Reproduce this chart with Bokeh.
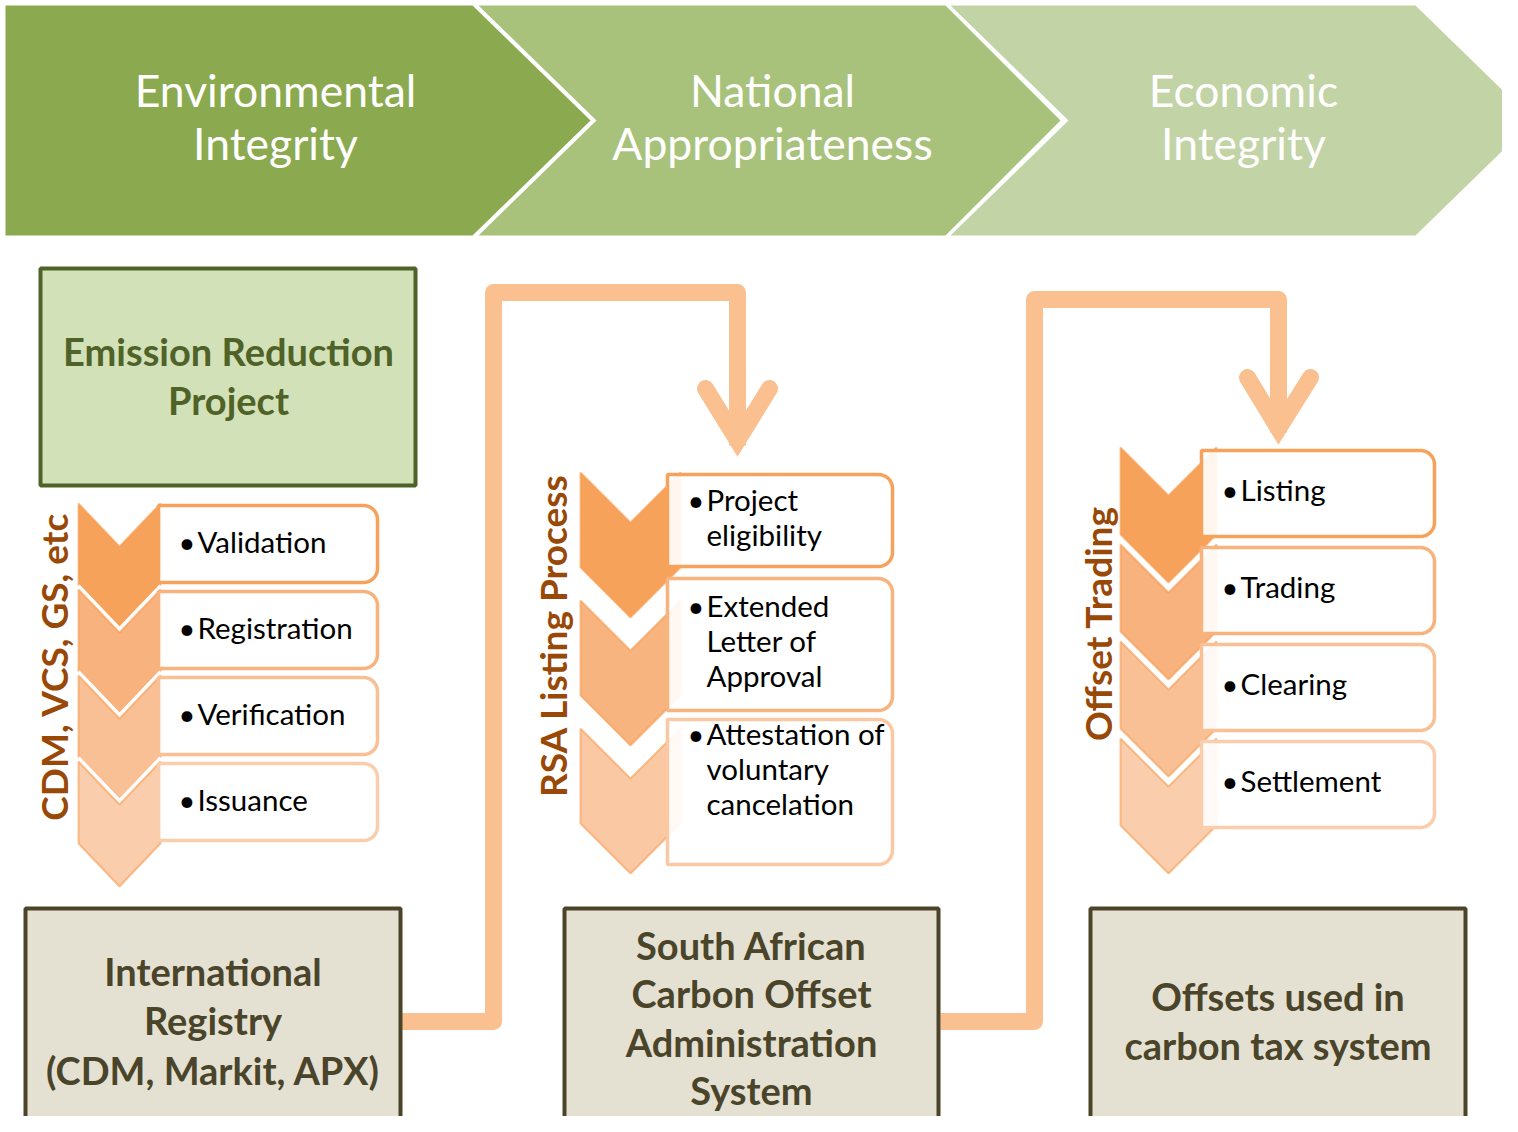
import numpy as np
from bokeh.plotting import figure
from bokeh.models import Range1d
from bokeh.embed import file_html
from bokeh.resources import INLINE
from bokeh.core.properties import value

# ---------------- data (texts) ----------------
stage_lines = [["Environmental", "Integrity"], ["National", "Appropriateness"], ["Economic", "Integrity"]]
stage_colors = ["#8BA94F", "#A8C27B", "#C2D3A6"]
project_lines = ["Emission Reduction", "Project"]
column_labels = ["CDM, VCS, GS, etc", "RSA Listing Process", "Offset Trading"]
col1_items = [["Validation"], ["Registration"], ["Verification"], ["Issuance"]]
col2_items = [["Project", "eligibility"], ["Extended", "Letter of", "Approval"],
              ["Attestation of", "voluntary", "cancelation"]]
col3_items = [["Listing"], ["Trading"], ["Clearing"], ["Settlement"]]
system_lines = [["International", "Registry", "(CDM, Markit, APX)"],
                ["South African", "Carbon Offset", "Administration", "System"],
                ["Offsets used in", "carbon tax system"]]
shades4 = ["#F7A25B", "#F8B27D", "#F9C096", "#FACDAC"]
shades3 = ["#F7A25B", "#F8B47E", "#FAC8A2"]

FONT = "Lato"
DY = -3  # text baseline correction
W, H = 1502, 1116
p = figure(width=W, height=H, x_range=Range1d(0, W), y_range=Range1d(H, 0),
           output_backend="svg", toolbar_location=None, min_border=0)
p.axis.visible = False
p.grid.visible = False
p.outline_line_color = None
p.background_fill_color = "white"
p.border_fill_color = "white"

# ---------------- header chevrons ----------------
hx = [(5, 472, 590), (478, 945, 1060), (950, 1415, 1533)]
htop, hbot = 5, 235
hmid = (htop + hbot) / 2
notch = 118
hxs, hys = [], []
for i, (a, b, tip) in enumerate(hx):
    if i == 0:
        xs = [a, b, tip, b, a]
        ys = [htop, htop, hmid, hbot, hbot]
    else:
        xs = [a, b, tip, b, a, a + notch]
        ys = [htop, htop, hmid, hbot, hbot, hmid]
    hxs.append(xs)
    hys.append(ys)
p.patches(hxs, hys, fill_color=stage_colors, line_color=None)
centers = [275, 772, 1243]
tx, ty, tt = [], [], []
for c, lines in zip(centers, stage_lines):
    for j, s in enumerate(lines):
        tx.append(c); ty.append(92 + DY + 53 * j); tt.append(s)
p.text(tx, ty, text=tt, text_color="white", text_font=value(FONT), text_font_size="44.5px",
       text_align="center", text_baseline="middle")

# ---------------- project box ----------------
p.quad(left=[40], right=[415], top=[268], bottom=[485], fill_color="#D3E1B8",
       line_color="#4F6228", line_width=4)
p.text([228] * 2, [353 + DY, 402 + DY], text=project_lines, text_color="#4F6228", text_font=value(FONT),
       text_font_style="bold", text_font_size="38px", text_align="center", text_baseline="middle")

# ---------------- connectors ----------------
conn_col = "#FAC090"
p.line([400, 493, 493, 737, 737], [1021, 1021, 292, 292, 445], line_width=17,
       line_color=conn_col, line_join="round")
p.line([705, 737, 769], [388, 440, 388], line_width=17, line_color=conn_col,
       line_join="miter", line_cap="round")
p.line([940, 1034, 1034, 1278, 1278], [1021, 1021, 299, 299, 432], line_width=17,
       line_color=conn_col, line_join="round")
p.line([1247, 1278, 1310], [377, 428, 377], line_width=17, line_color=conn_col,
       line_join="miter", line_cap="round")

# ---------------- chevron lists ----------------
def rbox(x0, y0, x1, y1, r):
    ang1 = np.linspace(-np.pi / 2, 0, 10)
    ang2 = np.linspace(0, np.pi / 2, 10)
    xs = [x0] + list(x1 - r + r * np.cos(ang1)) + list(x1 - r + r * np.cos(ang2)) + [x0]
    ys = [y0] + list(y0 + r + r * np.sin(ang1)) + list(y1 - r + r * np.sin(ang2)) + [y1]
    return xs, ys


def column(items, shades, cx, hw, top0, step, side, depth, bx0, bx1, boxes, text_x, first_line, lab_x, lab_y, label):
    n = len(items)
    for k in range(n):
        t = top0 + k * step
        xs = [cx - hw, cx, cx + hw, cx + hw, cx, cx - hw]
        ys = [t, t + depth, t, t + side, t + side + depth, t + side]
        p.patch(xs, ys, fill_color=shades[k], line_color="#F79646", line_alpha=0.55, line_width=2)
        if k > 0:
            p.line([cx - hw, cx, cx + hw], [t - 4, t + depth - 4, t - 4], line_color="white", line_width=3)
    for k in range(n):
        y0, y1 = boxes[k]
        xs, ys = rbox(bx0, y0, bx1, y1, 14)
        p.patch(xs, ys, fill_color="white", fill_alpha=0.9, line_color=shades[k], line_width=3.5)
        bx, by, bt = [], [], []
        for j, s in enumerate(items[k]):
            bx.append(text_x); by.append(y0 + first_line[k] + DY + 35 * j); bt.append(s)
        p.text([text_x - 19], [y0 + first_line[k] + DY], text=["•"], text_color="black",
               text_font=value(FONT), text_font_size="29px", text_align="left", text_baseline="middle")
        p.text(bx, by, text=bt, text_color="black", text_font=value(FONT), text_font_size="29.5px",
               text_align="left", text_baseline="middle")
    p.text([lab_x], [lab_y], text=[label], angle=np.pi / 2, text_color="#984807", text_font=value(FONT),
           text_font_style="bold", text_font_size="37px", text_align="center", text_baseline="middle")


column(col1_items, shades4, 119, 41, 503, 86, 82, 43, 158, 377,
       [(505 + 86 * k, 582 + 86 * k) for k in range(4)], 197, [39] * 4, 53, 666, column_labels[0])
column(col2_items, shades3, 630, 50, 472, 128, 95, 50, 667, 892,
       [(474, 566), (578, 710), (719, 864)], 706, [28, 30, 17], 552, 635, column_labels[1])
column(col3_items, shades4, 1168, 48, 447, 97, 87, 48, 1201, 1434,
       [(450 + 97 * k, 536 + 97 * k) for k in range(4)], 1240, [42] * 4, 1097, 623, column_labels[2])

# ---------------- bottom system boxes ----------------
sys_x = [(25, 400), (564, 938), (1090, 1465)]
sys_first = [973, 947, 998]
sys_step = [49.5, 48.5, 49.5]
p.quad(left=[a for a, b in sys_x], right=[b for a, b in sys_x], top=[908] * 3, bottom=[1170] * 3,
       fill_color="#E5E1D2", line_color="#4B4429", line_width=4)
sx, sy, st = [], [], []
for (a, b), f, stp, lines in zip(sys_x, sys_first, sys_step, system_lines):
    for j, s in enumerate(lines):
        sx.append((a + b) / 2); sy.append(f + DY + stp * j); st.append(s)
p.text(sx, sy, text=st, text_color="#4A452A", text_font=value(FONT), text_font_style="bold",
       text_font_size="38px", text_align="center", text_baseline="middle")

open("out.html", "w").write(file_html(p, INLINE))
